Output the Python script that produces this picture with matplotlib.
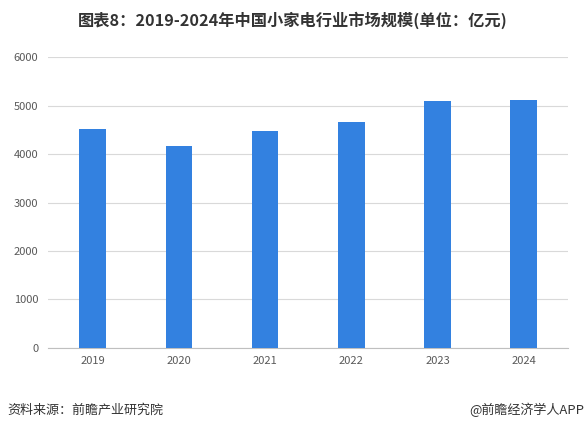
import matplotlib
matplotlib.use("Agg")
import matplotlib.pyplot as plt

plt.rcParams['font.family'] = ['Noto Sans CJK SC', 'DejaVu Sans']

years = ["2019", "2020", "2021", "2022", "2023", "2024"]
values = [4520, 4170, 4480, 4670, 5100, 5120]
yticks = [0, 1000, 2000, 3000, 4000, 5000, 6000]

title = "图表8：2019-2024年中国小家电行业市场规模(单位：亿元)"
source = "资料来源：前瞻产业研究院"
credit = "@前瞻经济学人APP"

fig = plt.figure(figsize=(5.85, 4.3), dpi=100)
ax = fig.add_axes([0.0821, 0.1914, 0.888, 0.6753])

x = list(range(len(years)))
ax.bar(x, values, width=0.31, color="#3381e0", zorder=3)
ax.set_xlim(-0.52, len(years) - 0.49)
ax.set_ylim(0, 6000)
ax.set_yticks(yticks)
ax.set_yticklabels([str(t) for t in yticks])
ax.set_xticks(x)
ax.set_xticklabels(years)
ax.grid(axis="y", color="#d9d9d9", linewidth=0.8, zorder=0)
for s in ["top", "right", "left"]:
    ax.spines[s].set_visible(False)
ax.spines["bottom"].set_color("#bfbfbf")
ax.spines["bottom"].set_linewidth(0.8)
ax.tick_params(axis="both", length=0, labelsize=8, colors="#595959")
ax.tick_params(axis="y", pad=7)
ax.tick_params(axis="x", pad=6)

fig.text(0.5, 0.953, title, ha="center", va="center", fontsize=11.7,
         fontweight="bold", color="#333333")
fig.text(0.012, 0.046, source, ha="left", va="center", fontsize=9.4, color="#333333")
fig.text(0.998, 0.046, credit, ha="right", va="center", fontsize=9.4, color="#333333")

fig.savefig("out.png", dpi=100)
